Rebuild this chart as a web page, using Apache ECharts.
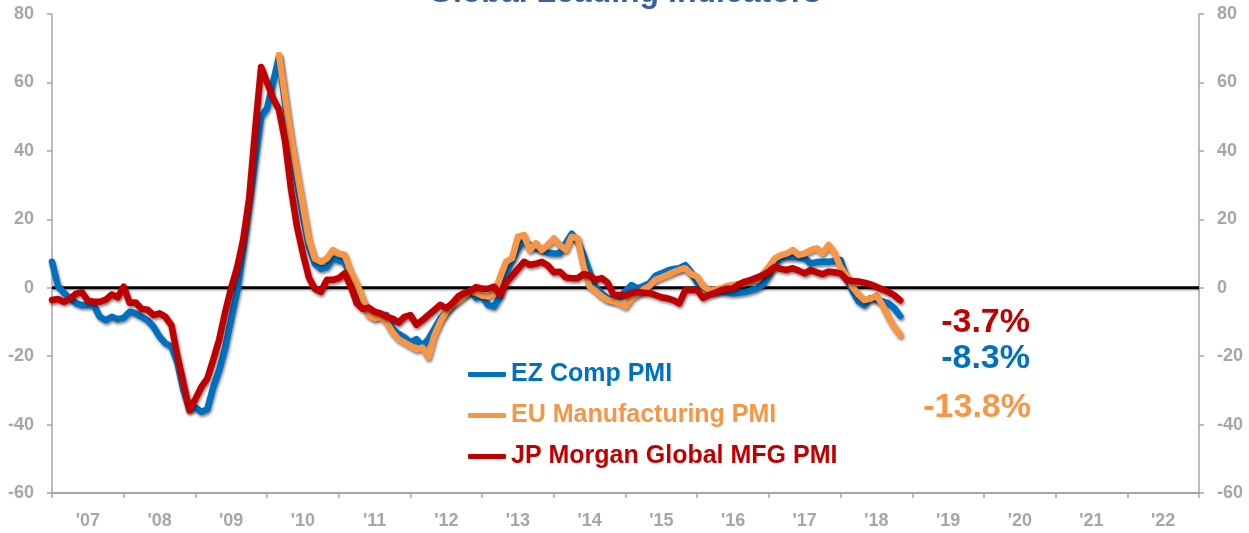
<!DOCTYPE html>
<html>
<head>
<meta charset="utf-8">
<title>Global Leading Indicators</title>
<script src="https://cdn.jsdelivr.net/npm/echarts@6/dist/echarts.min.js"></script>
<style>
  html, body { margin: 0; padding: 0; background: #ffffff; }
  #chart { width: 1249px; height: 533px; }
</style>
</head>
<body>
<div id="chart"></div>
<script>
// Year tick labels along the bottom axis
const yearLabels = ["'07", "'08", "'09", "'10", "'11", "'12", "'13", "'14", "'15", "'16", "'17", "'18", "'19", "'20", "'21", "'22"];
const firstYear = 2007;
const lastYear = 2023;

// Monthly readings, % year-over-year change (first value = Jan 2007)
const ezCompPmi = [
  7.6, 0.5, -1.5, -3.0, -4.5, -5.1, -5.0, -5.1, -8.5, -9.5, -8.5, -9.2,
  -8.8, -7.0, -7.5, -8.5, -9.5, -11.4, -14.3, -16.3, -17.2, -22.0, -30.0, -35.5,
  -35.0, -36.3, -35.5, -29.0, -24.0, -17.5, -9.0, -1.0, 11.0, 24.0, 37.0, 50.0,
  52.5, 60.0, 67.5, 54.0, 42.0, 31.0, 21.0, 12.0, 7.0, 5.5, 6.0, 8.5,
  8.0, 7.5, 3.0, -1.0, -4.0, -7.0, -8.5, -8.0, -8.0, -12.0, -13.5, -14.5,
  -16.0, -15.0, -17.0, -15.0, -12.0, -9.0, -7.0, -5.0, -3.0, -2.0, -1.0, -3.0,
  -2.5, -5.0, -5.5, -2.6, 4.0, 8.0, 11.5, 13.5, 12.5, 11.5, 11.0, 10.2,
  10.0, 10.1, 13.0, 15.8, 13.5, 9.5, 4.5, 0.0, -1.6, -3.0, -3.6, -2.8,
  -1.0, 0.8, -0.2, 0.5, 1.3, 3.5, 4.2, 5.0, 5.5, 5.7, 6.6, 4.5,
  1.5, 0.5, -1.2, -1.2, -1.2, -1.4, -1.6, -1.5, -1.2, -0.8, -0.2, 1.0,
  3.5, 7.0, 8.6, 9.0, 9.0, 8.8, 8.6, 7.1, 7.5, 7.6, 7.6, 7.8,
  8.1, 3.0, -1.0, -4.0, -5.1, -3.0, -3.6, -4.0, -4.5, -6.0, -8.3
];

// EU manufacturing series begins in Mar 2010 (month index 38)
const euMfgStart = 38;
const euMfgPmi = [
  68.0, 56.0, 44.0, 34.0, 24.0, 14.0, 8.5, 7.6, 8.5, 11.0,
  10.0, 9.6, 4.7, 1.3, -3.0, -8.0, -9.0, -8.5, -10.0, -13.0, -15.0, -16.0,
  -17.0, -18.0, -17.5, -20.3, -14.0, -10.0, -7.0, -5.0, -4.0, -2.5, -1.0, -1.5,
  -2.3, -2.6, -1.8, 3.0, 7.6, 8.6, 14.9, 15.4, 11.0, 13.0, 11.0, 12.5,
  14.4, 12.5, 11.0, 14.9, 14.4, 6.1, 0.3, -1.0, -2.5, -3.6, -4.0, -4.6,
  -5.5, -3.1, -2.0, -0.5, 0.5, 2.3, 3.0, 3.7, 4.5, 5.2, 5.7, 4.0,
  3.2, 0.5, -0.7, -0.5, -0.2, 0.5, 0.8, 1.0, 1.3, 2.0, 2.3, 4.0,
  6.1, 8.6, 9.5, 10.0, 11.0, 9.6, 10.0, 11.0, 11.5, 10.1, 12.5, 10.1,
  6.0, 3.5, 0.3, -2.0, -3.6, -3.2, -2.3, -5.0, -8.5, -11.5, -13.8
];

const jpmGlobalMfgPmi = [
  -3.6, -3.3, -4.1, -3.2, -1.8, -1.3, -3.8, -4.1, -4.1, -3.5, -2.0, -2.8,
  0.3, -4.4, -4.3, -6.2, -6.4, -8.0, -7.5, -8.5, -11.0, -20.0, -28.0, -35.8,
  -32.5, -29.0, -26.5, -21.0, -15.0, -7.0, 0.0, 6.0, 14.0, 26.0, 46.0, 64.5,
  60.0, 55.4, 52.0, 43.0, 29.0, 18.0, 10.0, 3.0, -0.3, -1.2, 2.3, 2.3,
  2.8, 4.2, 0.5, -4.5, -6.2, -5.8, -7.0, -7.5, -8.5, -9.0, -10.2, -8.5,
  -8.0, -10.8, -9.5, -8.0, -6.5, -5.0, -6.0, -4.5, -2.5, -1.5, -1.0, 0.2,
  -0.3, -0.3, 0.3, -2.1, 1.5, 3.5, 5.5, 7.6, 6.7, 7.0, 7.6, 6.5,
  4.5, 4.7, 3.0, 2.8, 2.8, 4.0, 3.5, 2.3, 2.8, 1.5, -2.1, -2.1,
  -2.3, -1.5, -1.2, -1.5, -1.6, -2.1, -2.8, -3.1, -3.6, -4.6, -0.7, -0.7,
  -0.7, -3.0, -2.1, -1.5, -0.7, -0.3, -0.2, 1.0, 1.8, 2.3, 3.0, 3.7,
  4.7, 6.1, 5.5, 5.2, 5.7, 5.0, 4.2, 5.2, 4.5, 4.0, 4.7, 4.5,
  4.2, 2.3, 2.0, 1.8, 1.5, 1.0, 0.3, -0.5, -1.2, -2.2, -3.7
];

// Zero reference line across the full axis span
const zeroLine = [[firstYear, 0], [lastYear, 0]];

const seriesNames = ['EZ Comp PMI', 'EU Manufacturing PMI', 'JP Morgan Global MFG PMI'];
const seriesColors = ['#0070C0', '#F79646', '#C00000'];

const yTicks = { min: -60, max: 80, interval: 20 };

const FONT = "'Liberation Sans', Arial, Helvetica, sans-serif";
const GRAY = '#A6A6A6';

// Turn a monthly list into [decimal year, value] pairs
function toPoints(values, startMonth) {
  return values.map((v, i) => [firstYear + (startMonth + i) / 12, v]);
}

const lineShadow = {
  shadowColor: 'rgba(0,0,0,0.5)',
  shadowBlur: 3,
  shadowOffsetX: 1,
  shadowOffsetY: 2
};

function pmiSeries(idx, values, startMonth, z) {
  return {
    name: seriesNames[idx],
    type: 'line',
    xAxisIndex: 1,
    yAxisIndex: 0,
    data: toPoints(values, startMonth),
    showSymbol: false,
    symbol: 'none',
    z: z,
    silent: true,
    lineStyle: Object.assign({
      color: seriesColors[idx],
      width: 6.5,
      cap: 'round',
      join: 'round'
    }, lineShadow),
    itemStyle: { color: seriesColors[idx] }
  };
}

function lastOf(arr) { return arr[arr.length - 1]; }
function pctText(v) { return v.toFixed(1) + '%'; }

const yAxisCommon = {
  type: 'value',
  min: yTicks.min,
  max: yTicks.max,
  interval: yTicks.interval,
  splitLine: { show: false },
  axisLine: { show: true, lineStyle: { color: GRAY, width: 1.5 } },
  axisTick: { show: true, inside: false, length: 5, lineStyle: { color: GRAY, width: 1.5 } },
  axisLabel: { color: GRAY, fontFamily: FONT, fontWeight: 'bold', fontSize: 18, margin: 18 }
};

const chart = echarts.init(document.getElementById('chart'), null, { renderer: 'canvas' });

chart.setOption({
  animation: false,
  backgroundColor: '#ffffff',
  grid: { left: 52, right: 50, top: 14, bottom: 40, containLabel: false },
  xAxis: [
    {
      type: 'category',
      data: yearLabels,
      position: 'bottom',
      boundaryGap: true,
      axisLine: { show: true, onZero: false, lineStyle: { color: GRAY, width: 2 } },
      axisTick: { show: true, inside: false, length: 5, lineStyle: { color: GRAY, width: 1.5 } },
      axisLabel: { color: GRAY, fontFamily: FONT, fontWeight: 'bold', fontSize: 18, margin: 19 },
      splitLine: { show: false }
    },
    {
      type: 'value',
      min: firstYear,
      max: lastYear,
      show: false,
      position: 'top',
      axisLine: { onZero: false },
      splitLine: { show: false }
    }
  ],
  yAxis: [
    Object.assign({ position: 'left' }, yAxisCommon),
    Object.assign({ position: 'right' }, yAxisCommon)
  ],
  legend: {
    orient: 'vertical',
    left: 468,
    top: 362,
    padding: 0,
    itemWidth: 38,
    itemHeight: 5,
    itemGap: 16,
    icon: 'roundRect',
    selectedMode: false,
    textStyle: { fontFamily: FONT, fontWeight: 'bold', fontSize: 25 },
    data: seriesNames.map((n, i) => ({ name: n, textStyle: { color: seriesColors[i] } }))
  },
  series: [
    {
      name: 'zero',
      type: 'line',
      xAxisIndex: 1,
      yAxisIndex: 0,
      data: zeroLine,
      showSymbol: false,
      symbol: 'none',
      silent: true,
      z: 1,
      lineStyle: { color: '#000000', width: 3, shadowColor: 'rgba(0,0,0,0.25)', shadowBlur: 2, shadowOffsetY: 1.5 }
    },
    pmiSeries(0, ezCompPmi, 0, 2),
    pmiSeries(1, euMfgPmi, euMfgStart, 3),
    pmiSeries(2, jpmGlobalMfgPmi, 0, 4)
  ],
  graphic: [
    {
      type: 'text',
      left: 'center',
      top: -23,
      silent: true,
      style: {
        text: 'Global Leading Indicators',
        fill: '#3B5F9C',
        font: 'bold 32px ' + FONT
      }
    },
    {
      type: 'text',
      right: 1249 - 1030,
      top: 306,
      silent: true,
      style: { text: pctText(lastOf(jpmGlobalMfgPmi)), fill: seriesColors[2], font: 'bold 34px ' + FONT }
    },
    {
      type: 'text',
      right: 1249 - 1030,
      top: 342,
      silent: true,
      style: { text: pctText(lastOf(ezCompPmi)), fill: seriesColors[0], font: 'bold 34px ' + FONT }
    },
    {
      type: 'text',
      right: 1249 - 1031,
      top: 391,
      silent: true,
      style: { text: pctText(lastOf(euMfgPmi)), fill: seriesColors[1], font: 'bold 34px ' + FONT }
    }
  ]
});
</script>
</body>
</html>
